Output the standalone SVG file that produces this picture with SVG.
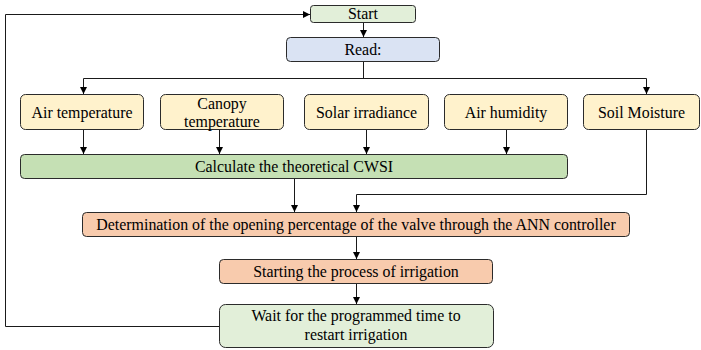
<svg xmlns="http://www.w3.org/2000/svg" width="701" height="350" viewBox="0 0 701 350">
  <defs>
    <marker id="arr" viewBox="0 0 10 10" refX="10" refY="5" markerWidth="7" markerHeight="7" markerUnits="userSpaceOnUse" orient="auto">
      <path d="M0,0 L10,5 L0,10 z" fill="#000"/>
    </marker>
    <style>
      .box { stroke: #2b2b2b; stroke-width: 1; }
      .green { fill: #e2efd9; }
      .blue { fill: #dae3f3; }
      .yellow { fill: #fff2cc; }
      .mid { fill: #c5e0b4; }
      .orange { fill: #f8cbad; }
      text { font-family: "Liberation Serif", "Times New Roman", serif; font-size: 15.9px; fill: #000; text-anchor: middle; }
      .conn path { fill: none; stroke: #1a1a1a; stroke-width: 1; }
      .conn .a { marker-end: url(#arr); }
    </style>
  </defs>

  <!-- connectors -->
  <g class="conn">
    <path class="a" d="M363.5,22 V37"/>
    <path d="M363.5,61 V78.5"/>
    <path d="M83.5,78.5 H646.5"/>
    <path class="a" d="M83.5,78.5 V94"/>
    <path class="a" d="M646.5,78.5 V94"/>
    <path class="a" d="M83.5,129 V154"/>
    <path class="a" d="M219.5,129 V154"/>
    <path class="a" d="M366.5,129 V154"/>
    <path class="a" d="M506.5,129 V154"/>
    <path class="a" d="M294.5,178 V212"/>
    <path class="a" d="M646.5,129 V194.5 H356.5 V212"/>
    <path class="a" d="M356.5,237 V259"/>
    <path class="a" d="M356.5,284 V304"/>
    <path class="a" d="M219,326.5 H5.5 V14.5 H310"/>
  </g>

  <g id="start">
    <rect class="box green" x="310.5" y="5.5" width="105" height="17" rx="3"/>
    <text x="363" y="19">Start</text>
  </g>
  <g id="read">
    <rect class="box blue" x="286.5" y="37.5" width="153" height="24" rx="4"/>
    <text x="363" y="55">Read:</text>
  </g>

  <g id="air-temperature">
    <rect class="box yellow" x="20.5" y="94.5" width="123" height="35" rx="5"/>
    <text x="82" y="117.5">Air temperature</text>
  </g>
  <g id="canopy-temperature">
    <rect class="box yellow" x="160.5" y="94.5" width="123" height="35" rx="5"/>
    <text x="222" y="109">Canopy</text>
    <text x="222" y="126.5">temperature</text>
  </g>
  <g id="solar-irradiance">
    <rect class="box yellow" x="304.5" y="94.5" width="124" height="35" rx="5"/>
    <text x="366.5" y="117.5">Solar irradiance</text>
  </g>
  <g id="air-humidity">
    <rect class="box yellow" x="444.5" y="94.5" width="123" height="35" rx="5"/>
    <text x="506" y="117.5">Air humidity</text>
  </g>
  <g id="soil-moisture">
    <rect class="box yellow" x="583.5" y="94.5" width="116" height="35" rx="5"/>
    <text x="641.5" y="117.5">Soil Moisture</text>
  </g>

  <g id="cwsi">
    <rect class="box mid" x="20.5" y="154.5" width="547" height="24" rx="4"/>
    <text x="294" y="171.5">Calculate the theoretical CWSI</text>
  </g>

  <g id="valve-opening">
    <rect class="box orange" x="82.5" y="212.5" width="547" height="24" rx="4"/>
    <text x="356" y="229.5">Determination of the opening percentage of the valve through the ANN controller</text>
  </g>

  <g id="start-irrigation">
    <rect class="box orange" x="219.5" y="259.5" width="273" height="24" rx="4"/>
    <text x="356" y="276.5">Starting the process of irrigation</text>
  </g>

  <g id="wait">
    <rect class="box green" x="219.5" y="304.5" width="274" height="43" rx="6"/>
    <text x="356" y="321">Wait for the programmed time to</text>
    <text x="356" y="340">restart irrigation</text>
  </g>
</svg>
